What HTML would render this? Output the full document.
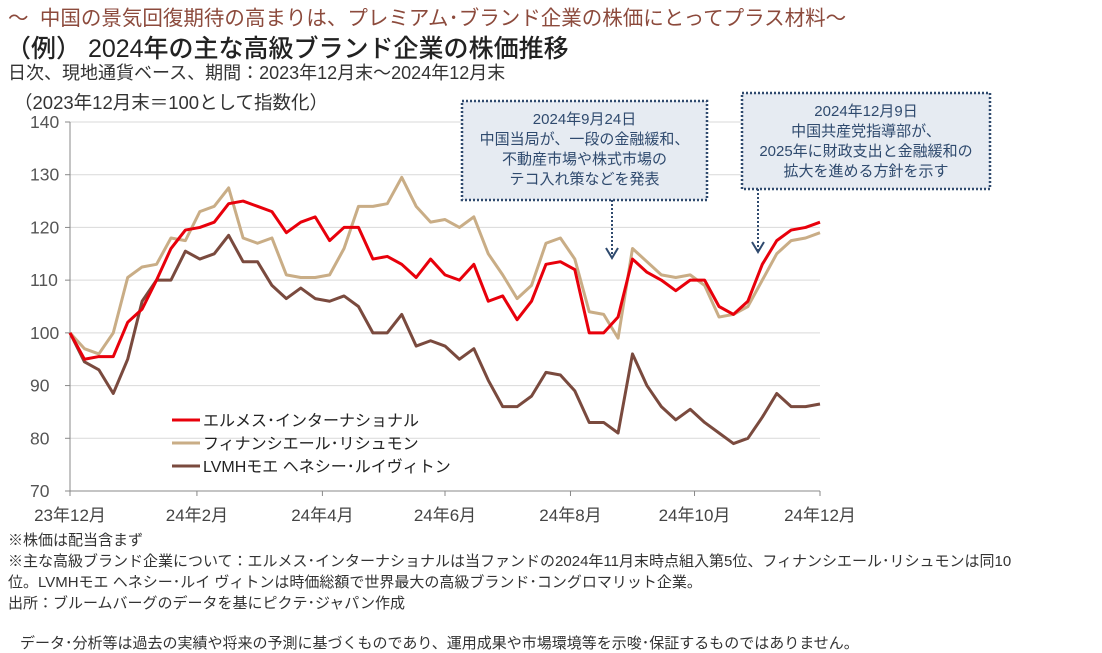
<!DOCTYPE html>
<html><head><meta charset="utf-8">
<style>
body{margin:0;width:1102px;height:653px;background:#fff;overflow:hidden;font-family:"Liberation Sans","Noto Sans CJK JP",sans-serif;color:#333}
.t{position:absolute;white-space:nowrap}
</style></head><body>
<div class="t" style="left:8px;top:1px;font-size:20.5px;color:#8c4a3c">～&nbsp; 中国の景気回復期待の高まりは、プレミアム･ブランド企業の株価にとってプラス材料～</div>
<div class="t" style="left:6px;top:29px;font-size:25px;color:#222;font-weight:500">（例） 2024年の主な高級ブランド企業の株価推移</div>
<div class="t" style="left:8px;top:59px;font-size:18px;color:#333">日次、現地通貨ベース、期間：2023年12月末～2024年12月末</div>
<div class="t" style="left:14px;top:89px;font-size:18.5px;color:#333">（2023年12月末＝100として指数化）</div>
<svg id="chart" width="1102" height="653" style="position:absolute;left:0;top:0"></svg>
<div class="t" style="left:8px;top:530px;font-size:15px;line-height:21px;color:#333">※株価は配当含まず<br>※主な高級ブランド企業について：エルメス･インターナショナルは当ファンドの2024年11月末時点組入第5位、フィナンシエール･リシュモンは同10<br>位。LVMHモエ ヘネシー･ルイ ヴィトンは時価総額で世界最大の高級ブランド･コングロマリット企業。<br>出所：ブルームバーグのデータを基にピクテ･ジャパン作成</div>
<div class="t" style="left:20px;top:632px;font-size:15px;color:#333">データ･分析等は過去の実績や将来の予測に基づくものであり、運用成果や市場環境等を示唆･保証するものではありません。</div>
<script>
const yTicks=[70,80,90,100,110,120,130,140];
const xLabels=["23年12月","24年2月","24年4月","24年6月","24年8月","24年10月","24年12月"];
const xLabelWeeks=[0,8.8,17.5,26,34.7,43.3,52];
const hermes=[100,95,95.5,95.5,102,104.5,110,116,119.5,120,121,124.5,125,124,123,119,121,122,117.5,120,120,114,114.5,113,110.5,114,111,110,113,106,107,102.5,106,113,113.5,112,100,100,103,114,111.5,110,108,110,110,105,103.5,106,113,117.5,119.5,120,121];
const richemont=[100,97,96,100,110.5,112.5,113,118,117.5,123,124,127.5,118,117,118,111,110.5,110.5,111,116,124,124,124.5,129.5,124,121,121.5,120,122,115,111,106.5,109,117,118,114,104,103.5,99,116,113.5,111,110.5,111,109,103,103.5,105,110,115,117.5,118,119];
const lvmh=[100,94.5,93,88.5,95,106,110,110,115.5,114,115,118.5,113.5,113.5,109,106.5,108.5,106.5,106,107,105,100,100,103.5,97.5,98.5,97.5,95,97,91,86,86,88,92.5,92,89,83,83,81,96,90,86,83.5,85.5,83,81,79,80,84,88.5,86,86,86.5];
const seriesNames=["エルメス･インターナショナル","フィナンシエール･リシュモン","LVMHモエ ヘネシー･ルイヴィトン"];
const seriesColors=["#e8000b","#c9ad86","#7a4a3e"];
const X0=70,X1=820,Y0=491,Y1=122,NW=52;
const xs=i=>X0+(X1-X0)*i/NW;
const ys=v=>Y0-(v-70)/(140-70)*(Y0-Y1);
const svg=document.getElementById('chart');const NS='http://www.w3.org/2000/svg';
function mk(tag,a){const e=document.createElementNS(NS,tag);for(const k in a)e.setAttribute(k,a[k]);svg.appendChild(e);return e;}
yTicks.forEach(v=>{
 if(v>70){const g=mk('line',{x1:X0,x2:X1,y1:ys(v),y2:ys(v),stroke:'#d9d9d9','stroke-width':1});
 
 }
 const tk=mk('line',{x1:X0-5,x2:X0,y1:ys(v),y2:ys(v),stroke:'#888'});
 
 
 const t=mk('text',{x:30,y:ys(v)+6,'font-size':17.5,fill:'#555','font-family':'Liberation Sans'});t.textContent=v;
 
 
});
const ya=mk('line',{x1:X0,x2:X0,y1:Y1,y2:Y0,stroke:'#888'});


const xa=mk('line',{x1:X0,x2:X1,y1:Y0,y2:Y0,stroke:'#888'});


xLabels.forEach((l,i)=>{const x=xs(xLabelWeeks[i]);
 const tk=mk('line',{x1:x,x2:x,y1:Y0,y2:Y0+5,stroke:'#888'});
 
 
 const t=mk('text',{x:x,y:521,'font-size':17,fill:'#444','text-anchor':'middle','font-family':'Liberation Sans, Noto Sans CJK JP, sans-serif'});t.textContent=l;
 
 
});
[lvmh,richemont,hermes].forEach((s,k)=>{const idx=[2,1,0][k];
 const p=mk('polyline',{points:s.map((v,i)=>xs(i)+','+ys(v)).join(' '),fill:'none',stroke:seriesColors[idx],'stroke-width':3,'stroke-linejoin':'round'});
 
 
});
seriesNames.forEach((n,i)=>{const y=420+i*23;
 const l=mk('line',{x1:172,x2:200,y1:y,y2:y,stroke:seriesColors[i],'stroke-width':3});
 
 
 const t=mk('text',{x:203,y:y+6,'font-size':16,fill:'#222','font-family':'Liberation Sans, Noto Sans CJK JP, sans-serif'});t.textContent=n;
 
 
});
function callout(x,y,w,h,lines,ax,ay,name){
 const r=mk('rect',{x:x,y:y,width:w,height:h,fill:'#e6ebf2',stroke:'#2f4a6e','stroke-width':2.5,'stroke-dasharray':'2 2'});
 
 
 lines.forEach((l,i)=>{const t=mk('text',{x:x+w/2,y:y+23+i*20,'font-size':15,fill:'#2f4a6e','text-anchor':'middle','font-family':'Liberation Sans, Noto Sans CJK JP, sans-serif'});t.textContent=l;
 
 });
 const a=mk('line',{x1:ax,x2:ax,y1:y+h,y2:ay,stroke:'#2f4a6e','stroke-width':2,'stroke-dasharray':'2 2'});
 
 
 const hd=mk('polyline',{points:(ax-6)+','+(ay-10)+' '+ax+','+ay+' '+(ax+6)+','+(ay-10),fill:'none',stroke:'#2f4a6e','stroke-width':2});
 
 
}
callout(462,101,245,99,["2024年9月24日","中国当局が、一段の金融緩和、","不動産市場や株式市場の","テコ入れ策などを発表"],612,258,'callout-sept');
callout(742,93,248,96,["2024年12月9日","中国共産党指導部が、","2025年に財政支出と金融緩和の","拡大を進める方針を示す"],758,252,'callout-dec');
</script>
</body></html>
